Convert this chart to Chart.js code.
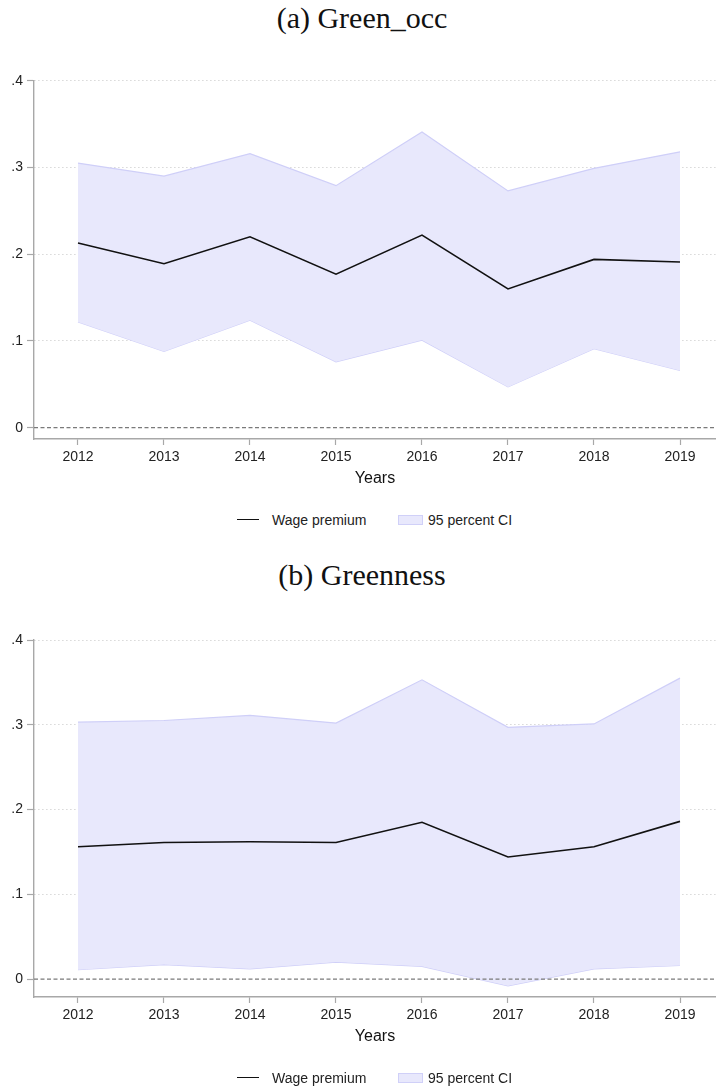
<!DOCTYPE html>
<html>
<head>
<meta charset="utf-8">
<script src="https://cdn.jsdelivr.net/npm/chart.js@4.4.1/dist/chart.umd.min.js"></script>
<style>
  html, body { margin: 0; padding: 0; background: #fff; }
  body { width: 716px; height: 1088px; position: relative; overflow: hidden; font-family: "Liberation Sans", Arial, sans-serif; }
  .title { position: absolute; left: 0; width: 716px; text-align: center; font-family: "Liberation Serif", "Times New Roman", serif; font-size: 30px; line-height: 30px; color: #111; padding-left: 8px; box-sizing: border-box; }
  .wrap { position: absolute; left: 0; }
  .leg { position: absolute; left: 0; width: 716px; height: 20px; font-size: 14px; color: #222; }
  .leg .ln { position: absolute; left: 237px; top: 9px; width: 22px; height: 0; border-top: 1.6px solid #111; }
  .leg .t1 { position: absolute; left: 272px; top: 1px; line-height: 18px; }
  .leg .bx { position: absolute; left: 398px; top: 5px; width: 23px; height: 8px; background: #e8e8fc; border: 1px solid #d0d0f8; }
  .leg .t2 { position: absolute; left: 428px; top: 1px; line-height: 18px; }
</style>
</head>
<body>
<div class="title" style="top:3px">(a) Green_occ</div>
<div class="wrap" style="top:0px"><canvas id="cA" width="716" height="500"></canvas></div>
<div class="leg" style="top:510px"><div class="ln"></div><div class="t1">Wage premium</div><div class="bx"></div><div class="t2">95 percent CI</div></div>

<div class="title" style="top:560px">(b) Greenness</div>
<div class="wrap" style="top:540px"><canvas id="cB" width="716" height="548"></canvas></div>
<div class="leg" style="top:1068px"><div class="ln"></div><div class="t1">Wage premium</div><div class="bx"></div><div class="t2">95 percent CI</div></div>

<script>
// ---- data ----
const years = [2012, 2013, 2014, 2015, 2016, 2017, 2018, 2019];
const yTicks = [0, 0.1, 0.2, 0.3, 0.4];
const yTickLabels = ["0", ".1", ".2", ".3", ".4"];

// (a) Green_occ
const premiumA = [0.213, 0.189, 0.220, 0.177, 0.222, 0.160, 0.194, 0.191];
const upperA   = [0.305, 0.290, 0.316, 0.279, 0.341, 0.273, 0.299, 0.318];
const lowerA   = [0.122, 0.088, 0.124, 0.076, 0.101, 0.047, 0.091, 0.066];

// (b) Greenness
const premiumB = [0.156, 0.161, 0.162, 0.161, 0.185, 0.144, 0.156, 0.186];
const upperB   = [0.303, 0.305, 0.311, 0.302, 0.353, 0.297, 0.301, 0.355];
const lowerB   = [0.011, 0.017, 0.012, 0.020, 0.015, -0.008, 0.012, 0.016];

Chart.defaults.font.family = '"Liberation Sans", Arial, sans-serif';
Chart.defaults.color = '#222';

const X_MIN = 2011.4884, X_MAX = 2019.4186;
const pts = (vals) => years.map((yr, i) => ({ x: yr, y: vals[i] }));

function makeChart(id, prem, up, lo, yMin, padTop, padBottom) {
  return new Chart(document.getElementById(id), {
    type: 'line',
    data: {
      datasets: [
        { label: 'Wage premium', data: pts(prem), borderColor: '#111', borderWidth: 1.6, pointRadius: 0, fill: false, tension: 0 },
        { label: 'zero', data: [{ x: X_MIN, y: 0 }, { x: X_MAX, y: 0 }], borderColor: '#7a7a7a', borderWidth: 1.2, borderDash: [4, 2.5], pointRadius: 0, fill: false },
        { label: '95 percent CI', data: pts(up), borderColor: '#cfcff8', borderWidth: 1.2, pointRadius: 0, fill: '+1', backgroundColor: '#e8e8fc', tension: 0 },
        { label: 'lower', data: pts(lo), borderColor: '#cfcff8', borderWidth: 1.2, pointRadius: 0, fill: false, tension: 0 }
      ]
    },
    options: {
      responsive: false,
      animation: false,
      events: [],
      layout: { padding: { top: padTop, bottom: padBottom, left: 0, right: 0 } },
      plugins: { legend: { display: false }, tooltip: { enabled: false }, title: { display: false } },
      scales: {
        x: {
          type: 'linear',
          min: X_MIN, max: X_MAX,
          afterBuildTicks: (s) => { s.ticks = years.map(v => ({ value: v })); },
          afterFit: (s) => { s.height = 49; },
          ticks: { callback: (v) => String(v), font: { size: 14 }, padding: 4, color: '#222', maxRotation: 0, autoSkip: false },
          grid: { drawOnChartArea: false, drawTicks: true, tickLength: 6, tickColor: '#a8a8a8', tickWidth: 1.2 },
          border: { display: true, color: '#a8a8a8', width: 1.4 },
          title: { display: true, text: 'Years', font: { size: 16 }, color: '#111', padding: { top: 0, bottom: 0 } }
        },
        y: {
          type: 'linear',
          min: yMin, max: 0.4,
          afterBuildTicks: (s) => { s.ticks = yTicks.map(v => ({ value: v })); },
          afterFit: (s) => { s.width = 34; },
          ticks: { callback: (v) => { const i = yTicks.findIndex(t => Math.abs(t - v) < 1e-9); return i >= 0 ? yTickLabels[i] : ''; }, font: { size: 14 }, padding: 4, color: '#222' },
          grid: { color: (c) => (c.tick && Math.abs(c.tick.value) < 1e-9) ? 'rgba(0,0,0,0)' : '#c4c4c4', lineWidth: 1, drawTicks: true, tickLength: 7, tickColor: '#a8a8a8', tickWidth: 1.2 },
          border: { display: true, color: '#a8a8a8', width: 1.4, dash: [1, 3] }
        }
      }
    }
  });
}

makeChart('cA', premiumA, upperA, lowerA, -0.013, 80.7, 12);
makeChart('cB', premiumB, upperB, lowerB, -0.0212, 100, 42);
</script>
</body>
</html>
